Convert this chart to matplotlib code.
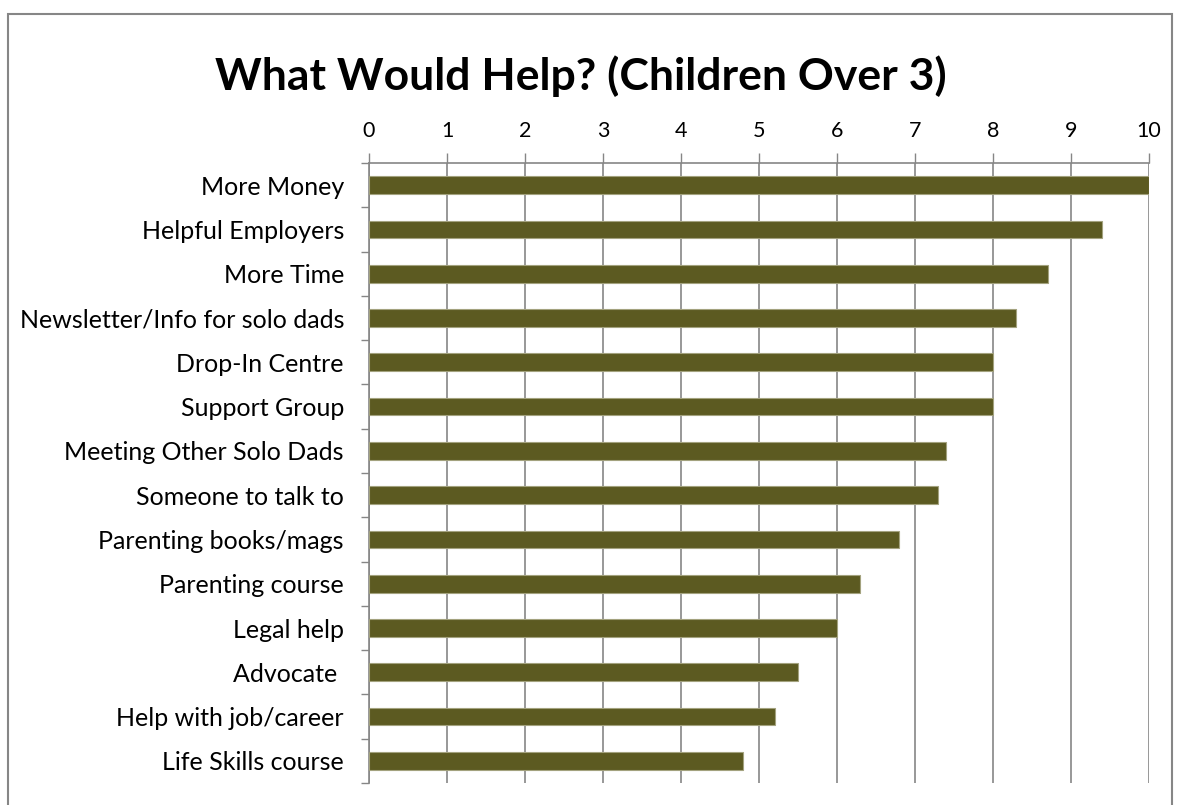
import matplotlib
matplotlib.use("Agg")
import matplotlib.pyplot as plt
from matplotlib.ticker import FixedLocator
from matplotlib.patches import Rectangle

categories = ["More Money", "Helpful Employers", "More Time", "Newsletter/Info for solo dads",
              "Drop-In Centre", "Support Group", "Meeting Other Solo Dads", "Someone to talk to",
              "Parenting books/mags", "Parenting course", "Legal help", "Advocate ",
              "Help with job/career", "Life Skills course"]
values = [10, 9.4, 8.7, 8.3, 8.0, 8.0, 7.4, 7.3, 6.8, 6.3, 6.0, 5.5, 5.2, 4.8]
xticks = list(range(0, 11))

plt.rcParams['font.family'] = ['Lato', 'DejaVu Sans']

fig = plt.figure(figsize=(11.8, 8.05), dpi=100)
ax = fig.add_axes([369/1180, 22/805, 780/1180, 620/805])

n = len(categories)
ypos = list(range(n))
ax.barh(ypos, values, height=0.4, color='#5C5A21', edgecolor='#A3A27E', linewidth=0.8, zorder=3)
ax.set_ylim(n - 0.5, -0.5)
ax.set_xlim(0, 10)

ax.xaxis.tick_top()
ax.set_xticks(xticks)
ax.tick_params(axis='x', direction='out', length=7, width=1, color='#868686', labelsize=15.5, pad=9, labelcolor='black')
ax.grid(axis='x', color='#868686', linewidth=1.2, zorder=0)

ax.set_yticks(ypos)
ax.set_yticklabels(categories)
ax.tick_params(axis='y', which='major', length=0, labelsize=18, pad=18)
ax.yaxis.set_minor_locator(FixedLocator([i - 0.5 for i in range(n + 1)]))
ax.tick_params(axis='y', which='minor', direction='out', length=6, width=1, color='#868686')

for s in ['right', 'bottom']:
    ax.spines[s].set_visible(False)
for s in ['left', 'top']:
    ax.spines[s].set_color('#868686')
    ax.spines[s].set_linewidth(1.2)

fig.text(581/1180, 1 - 76/805, "What Would Help? (Children Over 3)", ha='center', va='center',
         fontsize=32, fontweight='bold')

fig.patches.append(Rectangle((8/1180, -0.02), (1172-8)/1180, (805-14)/805 + 0.02,
                             transform=fig.transFigure, fill=False, edgecolor='#868686', linewidth=1.5))

fig.savefig("out.png", dpi=100)
